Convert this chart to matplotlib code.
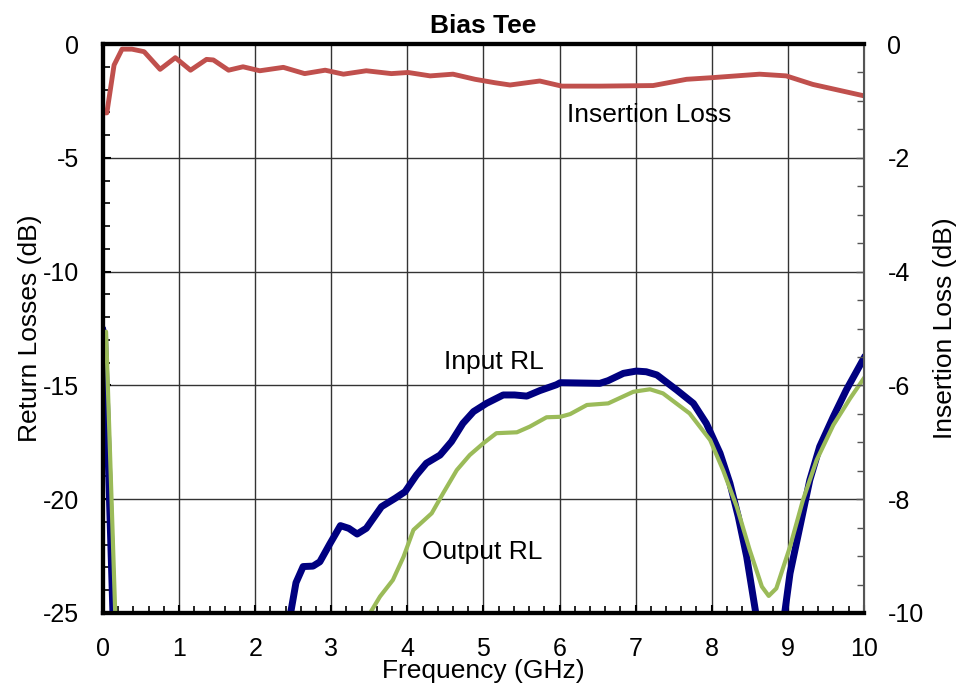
import matplotlib.pyplot as plt
import numpy as np

plt.rcParams['font.family'] = ['Liberation Sans', 'DejaVu Sans']
plt.rcParams['axes.unicode_minus'] = False

# Insertion loss (right axis, dB)
il_freq = [0.0, 0.05, 0.145, 0.25, 0.38, 0.54, 0.75, 0.95, 1.15, 1.36, 1.45, 1.65,
           1.84, 2.06, 2.37, 2.65, 2.92, 3.16, 3.46, 3.79, 4.01, 4.30, 4.60, 4.89,
           5.15, 5.35, 5.74, 6.03, 6.53, 7.23, 7.67, 8.02, 8.63, 8.98, 9.33, 10.0]
il_db = [-1.21, -1.21, -0.37, -0.09, -0.09, -0.135, -0.445, -0.24, -0.46, -0.27,
         -0.28, -0.46, -0.40, -0.47, -0.41, -0.52, -0.46, -0.53, -0.47, -0.52,
         -0.50, -0.56, -0.53, -0.62, -0.68, -0.72, -0.65, -0.74, -0.74, -0.73,
         -0.62, -0.59, -0.53, -0.56, -0.71, -0.91]

# Input return loss (left axis, dB)
in_freq = [0.0, 0.02, 0.13, 0.3, 1.0, 2.0, 2.45, 2.536, 2.63, 2.76, 2.85, 2.98,
           3.12, 3.23, 3.34, 3.46, 3.66, 3.84, 3.97, 4.12, 4.25, 4.43, 4.58, 4.73,
           4.87, 5.04, 5.26, 5.41, 5.57, 5.74, 5.96, 6.01, 6.53, 6.64, 6.84, 7.01,
           7.14, 7.28, 7.54, 7.76, 7.93, 8.11, 8.24, 8.35, 8.46, 8.58, 8.75, 8.96,
           9.03, 9.16, 9.29, 9.42, 9.60, 9.77, 10.0]
in_db = [-12.6, -12.9, -25.0, -30, -35, -30, -25.3, -23.67, -22.96, -22.94, -22.75,
         -21.97, -21.16, -21.28, -21.53, -21.28, -20.33, -19.96, -19.67, -18.94,
         -18.42, -18.06, -17.47, -16.67, -16.15, -15.79, -15.42, -15.42, -15.47,
         -15.23, -14.97, -14.88, -14.91, -14.79, -14.47, -14.37, -14.40, -14.54,
         -15.20, -15.79, -16.67, -17.98, -19.30, -20.77, -22.52, -25.0, -27.0,
         -25.0, -23.26, -21.21, -19.16, -17.69, -16.37, -15.20, -13.81]

# Output return loss (left axis, dB)
out_freq = [0.0, 0.04, 0.16, 0.4, 1.5, 3.0, 3.51, 3.64, 3.81, 3.95, 4.08, 4.32,
            4.47, 4.65, 4.82, 5.00, 5.17, 5.44, 5.61, 5.83, 6.01, 6.14, 6.36, 6.64,
            6.97, 7.19, 7.36, 7.71, 7.98, 8.15, 8.33, 8.50, 8.66, 8.75, 8.85, 9.03,
            9.20, 9.38, 9.60, 9.82, 10.0]
out_db = [-13.0, -12.64, -25.0, -30, -35, -28, -25.0, -24.28, -23.55, -22.53,
          -21.35, -20.62, -19.74, -18.72, -18.06, -17.54, -17.10, -17.06, -16.81,
          -16.40, -16.38, -16.26, -15.86, -15.79, -15.28, -15.17, -15.35, -16.23,
          -17.40, -18.72, -20.33, -22.23, -23.84, -24.25, -23.92, -22.09, -20.04,
          -18.28, -16.74, -15.57, -14.69]

fig = plt.figure(figsize=(9.63, 6.9), dpi=100)
ax = fig.add_axes([0.107, 0.1116, 0.79, 0.8246])
ax2 = ax.twinx()

ax.plot(in_freq, in_db, color='#000080', lw=5, solid_joinstyle='round', zorder=3)
ax.plot(out_freq, out_db, color='#9BBB59', lw=3, solid_joinstyle='round', zorder=4)
ax2.plot(il_freq, il_db, color='#C0504D', lw=3.5, solid_joinstyle='round')

ax.set_xlim(0, 10)
ax.set_ylim(-25, 0)
ax2.set_ylim(-10, 0)

ax.set_xticks(np.arange(0, 11, 1))
ax.set_xticks(np.arange(0, 10.01, 0.2), minor=True)
ax.set_yticks(np.arange(-25, 1, 5))
ax.set_yticks(np.arange(-25, 0.1, 1), minor=True)
ax2.set_yticks(np.arange(-10, 1, 2))
ax2.set_yticks(np.arange(-10, 0.1, 0.5), minor=True)

ax.grid(True, which='major', color='#333333', lw=1)

ax.tick_params(axis='both', which='major', direction='in', length=6, width=1.5,
               labelsize=18)
ax.tick_params(axis='both', which='minor', direction='in', length=5, width=1.2)
ax.tick_params(axis='y', pad=17)
ax.tick_params(axis='x', pad=17)
ax2.tick_params(axis='y', which='major', direction='in', length=6, width=1,
                labelsize=18, pad=17, colors='#555555', labelcolor='black')
ax2.tick_params(axis='y', which='minor', direction='in', length=5, width=1,
                colors='#555555')

for side in ['left', 'bottom', 'top']:
    ax.spines[side].set_linewidth(3)
    ax2.spines[side].set_linewidth(3)
ax2.spines['right'].set_linewidth(1.5)
ax2.spines['right'].set_color('#555555')

ax.set_xlabel('Frequency (GHz)', fontsize=19, labelpad=-1)
ax.set_ylabel('Return Losses (dB)', fontsize=19, labelpad=1)
ax2.set_ylabel('Insertion Loss (dB)', fontsize=19, labelpad=7)
ax.set_title('Bias Tee', fontsize=19, fontweight='bold', pad=8)

ax2.text(7.18, -1.25, 'Insertion Loss', fontsize=19, ha='center', va='center')
ax.text(5.14, -13.97, 'Input RL', fontsize=19, ha='center', va='center')
ax.text(4.99, -22.32, 'Output RL', fontsize=19, ha='center', va='center')

fig.savefig('out.png', dpi=100)
